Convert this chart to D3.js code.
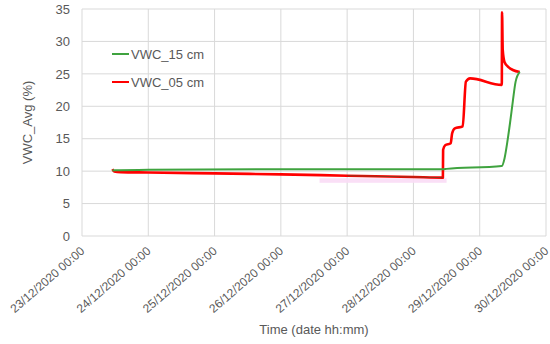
<!DOCTYPE html>
<html>
<head>
<meta charset="utf-8">
<script src="https://cdn.jsdelivr.net/npm/d3@7"></script>
<style>
  body { margin: 0; background: #fff; }
  text { font-family: "Liberation Sans", Arial, sans-serif; fill: #595959; }
</style>
</head>
<body>
<div id="chart"></div>
<script>
var WIDTH = 550, HEIGHT = 344;

// data
var seriesNames = ["VWC_15 cm", "VWC_05 cm"];
var seriesColors = ["#3fa33f", "#ff0000"];

var greenTimes = ["2020-12-23 11:00", "2020-12-23 12:00", "2020-12-24 00:00", "2020-12-26 00:00",
  "2020-12-28 10:40", "2020-12-28 12:00", "2020-12-29 08:00", "2020-12-29 09:00", "2020-12-29 10:00",
  "2020-12-29 11:00", "2020-12-29 12:00", "2020-12-29 13:00", "2020-12-29 14:30"];
var greenValues = [10.1, 10.15, 10.2, 10.3, 10.3, 10.35, 10.8, 12.0, 14.5, 17.5, 20.8, 23.8, 25.3];

var redTimes = ["2020-12-23 11:00", "2020-12-23 11:40", "2020-12-23 14:00", "2020-12-24 00:00",
  "2020-12-25 00:00", "2020-12-26 00:00", "2020-12-27 00:00", "2020-12-28 00:00", "2020-12-28 10:40",
  "2020-12-28 10:45", "2020-12-28 11:30", "2020-12-28 13:30", "2020-12-28 14:00", "2020-12-28 15:00",
  "2020-12-28 17:50", "2020-12-28 19:00", "2020-12-28 20:30", "2020-12-29 08:00", "2020-12-29 08:05",
  "2020-12-29 08:20", "2020-12-29 09:00", "2020-12-29 10:30", "2020-12-29 12:00", "2020-12-29 14:30"];
var redValues = [10.3, 9.95, 9.85, 9.8, 9.65, 9.5, 9.3, 9.1, 9.0,
  13.3, 14.0, 14.3, 15.8, 16.6, 16.9, 23.8, 24.3, 23.3, 34.5,
  28.7, 26.8, 26.0, 25.6, 25.3];

var xTicks = ["2020-12-23 00:00", "2020-12-24 00:00", "2020-12-25 00:00", "2020-12-26 00:00",
  "2020-12-27 00:00", "2020-12-28 00:00", "2020-12-29 00:00", "2020-12-30 00:00"];
var yTicks = [0, 5, 10, 15, 20, 25, 30, 35];

var parse = d3.timeParse("%Y-%m-%d %H:%M");
var fmt = d3.timeFormat("%d/%m/%Y %H:%M");

var margin = {top: 9, right: 4, bottom: 108, left: 82};
var w = WIDTH - margin.left - margin.right;
var h = HEIGHT - margin.top - margin.bottom;

var svg = d3.select("#chart").append("svg")
  .attr("width", WIDTH).attr("height", HEIGHT);
var g = svg.append("g").attr("transform", "translate(" + margin.left + "," + margin.top + ")");

var x = d3.scaleTime()
  .domain([parse(xTicks[0]), parse(xTicks[xTicks.length - 1])])
  .range([0, w]);
var y = d3.scaleLinear().domain([0, 35]).range([h, 0]);

// grid
g.selectAll(".hgrid").data(yTicks).enter().append("line")
  .attr("x1", 0).attr("x2", w)
  .attr("y1", function(d){return y(d)}).attr("y2", function(d){return y(d)})
  .attr("stroke", "#d9d9d9").attr("stroke-width", 1);
g.selectAll(".vgrid").data(xTicks).enter().append("line")
  .attr("x1", function(d){return x(parse(d))}).attr("x2", function(d){return x(parse(d))})
  .attr("y1", 0).attr("y2", h)
  .attr("stroke", "#d9d9d9").attr("stroke-width", 1);

// y axis
var yAxis = g.append("g")
  .call(d3.axisLeft(y).tickValues(yTicks).tickSize(0).tickPadding(12));
yAxis.select(".domain").remove();
yAxis.selectAll("text").style("font-size", "13px").attr("fill", "#595959");

// x axis
var xAxis = g.append("g").attr("transform", "translate(0," + h + ")")
  .call(d3.axisBottom(x).tickValues(xTicks.map(parse)).tickFormat(fmt).tickSize(0));
xAxis.select(".domain").remove();
xAxis.selectAll("text")
  .style("font-size", "12px").attr("fill", "#595959")
  .attr("text-anchor", "end")
  .attr("y", 0).attr("dy", "0.35em")
  .attr("transform", "translate(0,13) rotate(-41)");

// faint highlight under the red line
var hl = [parse("2020-12-26 14:00"), parse("2020-12-28 12:00")];
g.append("rect")
  .attr("x", x(hl[0])).attr("width", x(hl[1]) - x(hl[0]))
  .attr("y", y(8.9)).attr("height", y(8.2) - y(8.9))
  .attr("fill", "#f9dcf5").attr("opacity", 0.9);

var line = d3.line()
  .x(function(d){return x(d.t)})
  .y(function(d){return y(d.v)})
  .curve(d3.curveMonotoneX);

var red = redTimes.map(function(t, i){return {t: parse(t), v: redValues[i]}});
var green = greenTimes.map(function(t, i){return {t: parse(t), v: greenValues[i]}});

g.append("path").datum(red)
  .attr("fill", "none").attr("stroke", seriesColors[1]).attr("stroke-width", 2.6)
  .attr("stroke-linejoin", "round")
  .attr("d", line);

// darker stretch of the red trace before the jump
var dark = red.filter(function(d){return d.t >= parse("2020-12-27 00:00") && d.t <= parse("2020-12-28 10:40")});
g.append("path").datum(dark)
  .attr("fill", "none").attr("stroke", "#8a3a1c").attr("stroke-width", 1)
  .attr("d", line);

g.append("path").datum(green)
  .attr("fill", "none").attr("stroke", seriesColors[0]).attr("stroke-width", 2)
  .attr("stroke-linejoin", "round")
  .attr("d", line);

// legend
var legend = svg.selectAll(".legend").data(seriesNames).enter().append("g")
  .attr("transform", function(d, i){return "translate(112," + (54 + i * 28) + ")"});
legend.append("line")
  .attr("x1", 0).attr("x2", 17).attr("y1", 0).attr("y2", 0)
  .attr("stroke", function(d, i){return seriesColors[i]}).attr("stroke-width", 2);
legend.append("text")
  .attr("x", 19).attr("y", 0).attr("dy", "0.35em")
  .style("font-size", "13px")
  .text(function(d){return d});

// axis titles
svg.append("text")
  .attr("transform", "translate(32," + (margin.top + h / 2) + ") rotate(-90)")
  .attr("text-anchor", "middle")
  .style("font-size", "13px")
  .text("VWC_Avg (%)");
svg.append("text")
  .attr("x", margin.left + w / 2).attr("y", 334)
  .attr("text-anchor", "middle")
  .style("font-size", "13px")
  .text("Time (date hh:mm)");
</script>
</body>
</html>
